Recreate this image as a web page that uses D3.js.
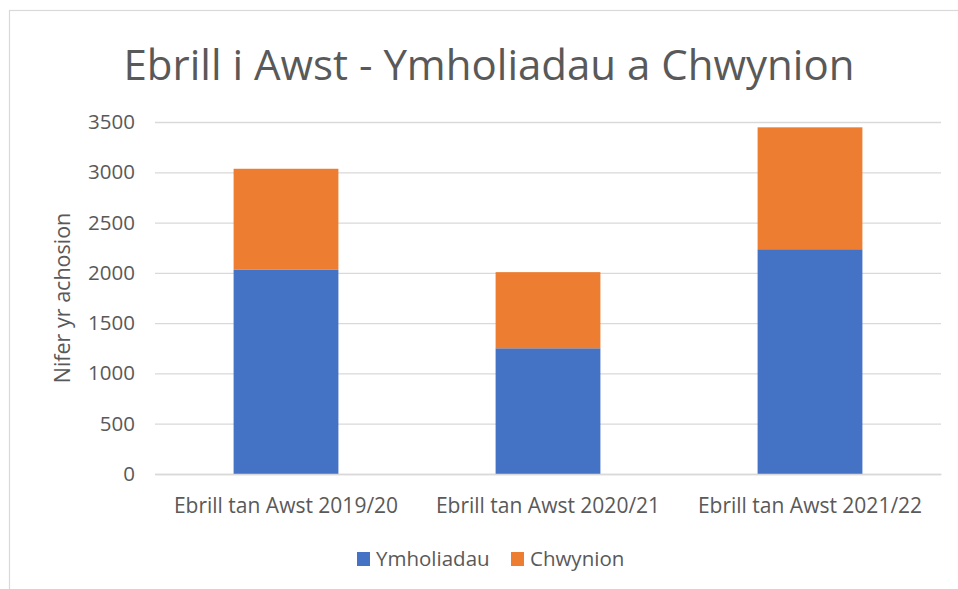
<!DOCTYPE html>
<html>
<head>
<meta charset="utf-8">
<script src="https://cdn.jsdelivr.net/npm/d3@7"></script>
<style>
  body { margin: 0; background: #fff; }
  svg text { font-family: "Open Sans", sans-serif; fill: #595959; }
</style>
</head>
<body>
<svg id="chart" width="958" height="589"></svg>
<script>
// data
const categories = ["Ebrill tan Awst 2019/20", "Ebrill tan Awst 2020/21", "Ebrill tan Awst 2021/22"];
const ymholiadau = [2030, 1250, 2235];
const chwynion = [1005, 757, 1212];
const seriesNames = ["Ymholiadau", "Chwynion"];
const seriesColors = ["#4472C4", "#ED7D31"];
const yTicks = [0, 500, 1000, 1500, 2000, 2500, 3000, 3500];

const width = 958, height = 589;
const margin = {top: 122, left: 155, right: 17, bottom: 115};
const plotWidth = width - margin.left - margin.right;
const plotHeight = height - margin.top - margin.bottom;

const svg = d3.select("#chart");

// chart frame
svg.append("rect")
    .attr("x", 9.5).attr("y", 10.5)
    .attr("width", 980).attr("height", 600)
    .attr("fill", "none")
    .attr("stroke", "#d9d9d9")
    .attr("stroke-width", 1.2);

const table = categories.map((c, i) => ({cat: c, Ymholiadau: ymholiadau[i], Chwynion: chwynion[i]}));
const stacked = d3.stack().keys(seriesNames)(table);

/***** SCALES *****/
const xScale = d3.scaleBand()
    .domain(categories)
    .range([0, plotWidth])
    .paddingInner(0.6)
    .paddingOuter(0.3);

const yScale = d3.scaleLinear()
    .domain([0, 3500])
    .range([plotHeight, 0]);

const plot = svg.append("g")
    .attr("transform", `translate(${margin.left}, ${margin.top})`);

/***** GRIDLINES *****/
plot.append("g")
    .call(d3.axisLeft(yScale)
        .tickValues(yTicks)
        .tickSize(-plotWidth)
        .tickFormat(""))
    .call(g => g.select(".domain").remove())
    .call(g => g.selectAll("line").attr("stroke", "#d9d9d9").attr("stroke-width", 1.3));

/***** Y AXIS LABELS *****/
plot.append("g")
    .call(d3.axisLeft(yScale)
        .tickValues(yTicks)
        .tickSize(0)
        .tickPadding(20)
        .tickFormat(d3.format("d")))
    .call(g => g.select(".domain").remove())
    .selectAll("text")
    .style("font-size", "20.5px")
    .style("font-family", "'Open Sans', sans-serif")
    .attr("fill", "#595959");

/***** BARS *****/
plot.selectAll(".series")
    .data(stacked)
    .join("g")
    .attr("class", "series")
    .attr("fill", (d, i) => seriesColors[i])
    .selectAll("rect")
    .data(d => d)
    .join("rect")
    .attr("x", d => xScale(d.data.cat))
    .attr("width", xScale.bandwidth())
    .attr("y", d => yScale(d[1]))
    .attr("height", d => yScale(d[0]) - yScale(d[1]));

/***** X AXIS *****/
plot.append("g")
    .attr("transform", `translate(0, ${plotHeight})`)
    .call(d3.axisBottom(xScale).tickSize(0).tickPadding(24))
    .call(g => g.select(".domain").attr("stroke", "#d9d9d9").attr("stroke-width", 1.3))
    .selectAll("text")
    .style("font-size", "21px")
    .style("font-family", "'Open Sans', sans-serif")
    .attr("fill", "#595959");

/***** AXIS TITLE *****/
svg.append("text")
    .attr("transform", `translate(70, ${margin.top + plotHeight / 2}) rotate(-90)`)
    .attr("text-anchor", "middle")
    .style("font-size", "21.5px")
    .text("Nifer yr achosion");

/***** TITLE *****/
svg.append("text")
    .attr("x", 489)
    .attr("y", 80)
    .attr("text-anchor", "middle")
    .style("font-size", "42px")
    .text("Ebrill i Awst - Ymholiadau a Chwynion");

/***** LEGEND *****/
const legend = svg.append("g").attr("transform", "translate(357, 552)");
const legendX = [0, 154];
seriesNames.forEach((name, i) => {
    legend.append("rect")
        .attr("x", legendX[i]).attr("y", 0)
        .attr("width", 13).attr("height", 14)
        .attr("fill", seriesColors[i]);
    legend.append("text")
        .attr("x", legendX[i] + 19)
        .attr("y", 14)
        .style("font-size", "20.5px")
        .text(name);
});
</script>
</body>
</html>
